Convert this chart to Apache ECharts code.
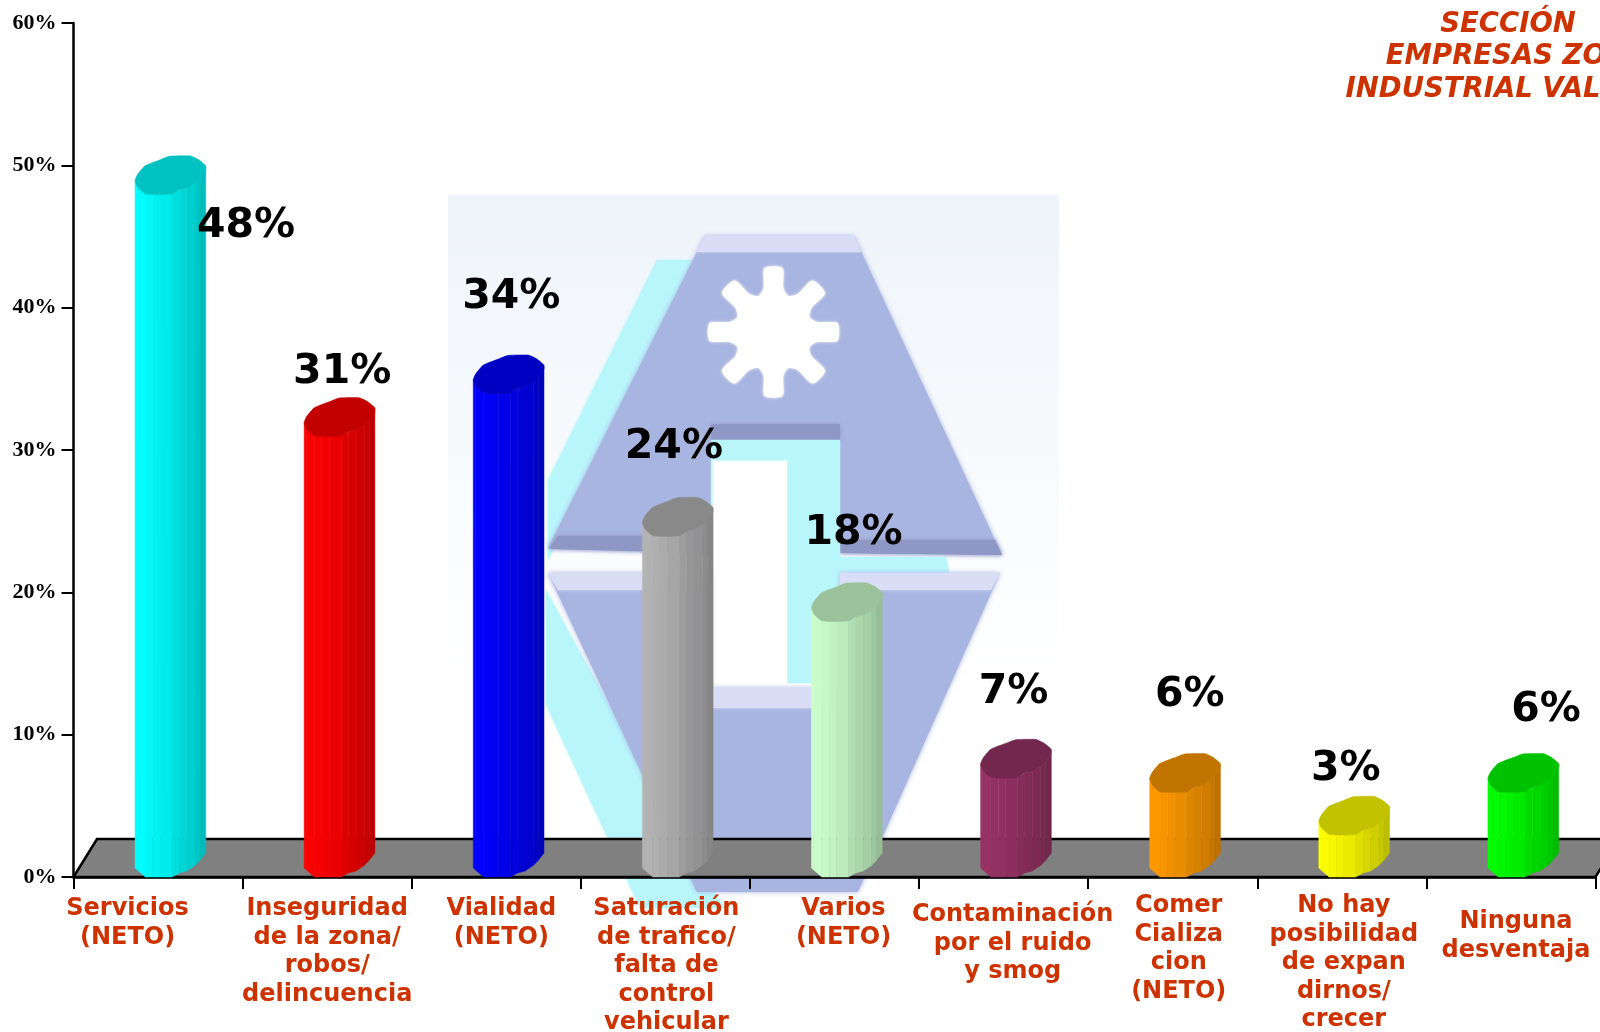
<!DOCTYPE html>
<html>
<head>
<meta charset="utf-8">
<style>html,body{margin:0;padding:0;background:#fff;overflow:hidden}#c{width:1600px;height:1032px}</style>
<script src="https://cdn.jsdelivr.net/npm/echarts@6/dist/echarts.min.js"></script>
</head>
<body>
<div id="c"></div>
<script>
const categories = [
  'Servicios\n(NETO)',
  'Inseguridad\nde la zona/\nrobos/\ndelincuencia',
  'Vialidad\n(NETO)',
  'Saturación\nde trafico/\nfalta de\ncontrol\nvehicular',
  'Varios\n(NETO)',
  'Contaminación\npor el ruido\ny smog',
  'Comer\nCializa\ncion\n(NETO)',
  'No hay\nposibilidad\nde expan\ndirnos/\ncrecer',
  'Ninguna\ndesventaja'
];
const values = [48, 31, 34, 24, 18, 7, 6, 3, 6];
const barColors = ['#00FFFF','#FF0000','#0000FF','#B4B4B4','#CCFFCC','#993366','#FF9900','#FFFF00','#00FF00'];
const yTicks = [0, 10, 20, 30, 40, 50, 60];
const titleLines = ['SECCIÓN', 'EMPRESAS ZONA', 'INDUSTRIAL VALLEJO'];

// layout only: nudges of labels relative to their category
const axisLabelNudge = [[-30.5,3],[0,3],[5,3],[1,3],[9,3],[9,9],[6,0],[2,0],[5,16]];
const valueLabelNudge = [[88,33],[15,-63.5],[15,-96],[8.5,-88.5],[19,-87.5],[10,-85],[17,-96.2],[4,-64.5],[35,-81.2]];
const titleCenters = [1508, 1518, 1508];
const titleTops = [11, 43, 76];

// shape of the faceted column, in px relative to its left edge and value height
const capOutline = [[0,-13.3],[2.3,-19],[10,-28],[25,-34],[35,-37.7],[55,-38],[63,-34.5],[70.7,-28],[70.7,-23],[61.7,-12.3],[51.7,-6],[44,-4],[37,0.3],[10.7,0.3],[2.3,-6.7]];
const frontTop = [[0,-13.3],[2.3,-6.7],[10.7,0.3],[37,0.3],[44,-4],[51.7,-6],[61.7,-12.3],[70.7,-23]];
const frontBase = [[0,-10],[10,-1],[37,-1],[44,-5],[52,-7],[62,-14],[70.7,-25]];
const slats = [0,2.3,10.3,17.7,25,37,44.3,51.7,60,65,70.7];
const slatShade = [1,0.99,0.97,0.95,0.92,0.87,0.84,0.81,0.78,0.74];
const capShade = 0.76;
const barShift = -23;
const floorDepth = [23.5, 38];

function shade(hex, f) {
  const n = parseInt(hex.slice(1), 16);
  return 'rgb(' + [(n>>16)&255,(n>>8)&255,n&255].map(c => Math.round(c*f)).join(',') + ')';
}
function curveAt(curve, x) {
  for (let i = 0; i < curve.length-1; i++) {
    const a = curve[i], b = curve[i+1];
    if (x <= b[0]) return a[1] + (b[1]-a[1])*(x-a[0])/(b[0]-a[0]);
  }
  return curve[curve.length-1][1];
}
function gear(cx, cy, rBody, rTip, halfW) {
  const p = [];
  for (let k = 0; k < 8; k++) {
    const t = k*Math.PI/4 - Math.PI/2, c = Math.cos(t), s = Math.sin(t);
    const pt = (r,w) => [cx + r*c - w*s, cy + r*s + w*c];
    p.push(pt(rBody,-halfW*1.1), pt(rTip,-halfW), pt(rTip,halfW), pt(rBody,halfW*1.1));
    const m = t + Math.PI/8;
    p.push([cx + (rBody-5)*Math.cos(m), cy + (rBody-5)*Math.sin(m)]);
  }
  return p;
}

function poly(points, fill, blur) {
  return {type:'polygon', silent:true, z:-10, shape:{points},
    style:{fill, shadowBlur: blur||0, shadowColor: fill}};
}
const PERI='#A9B5E1', LIGHT='#D9DDF5', DARK='#8F97C5', CYAN='#B9F6FB';
const backdrop = [
  {type:'rect', silent:true, z:-10, shape:{x:448,y:195,width:611,height:700},
   style:{fill:{type:'linear',x:0,y:0,x2:0,y2:1,colorStops:[{offset:0,color:'#EFF4FA'},{offset:0.35,color:'#F7FAFD'},{offset:0.7,color:'#FFFFFF'},{offset:1,color:'#FFFFFF'}]}}},
  poly([[657,260],[700,260],[548,560],[548,480]], CYAN, 3),
  poly([[546,590],[705,880],[725,908],[640,908],[546,705]], CYAN, 3),
  poly([[705,236],[854,236],[1002,555],[840,553],[840,429],[711,429],[711,553],[548,548]], PERI, 5),
  poly([[705,236],[854,236],[861,252],[697,252]], LIGHT, 3),
  poly([[558,536],[711,536],[711,553],[549,549]], DARK, 4),
  poly([[840,540],[995,540],[1002,555],[840,553]], DARK, 4),
  poly([[711,424],[840,424],[840,440],[711,440]], DARK, 4),
  poly([[711,440],[840,440],[840,557],[946,557],[950,575],[840,575],[840,683],[711,683]], CYAN, 2),
  poly([[713,461],[787,461],[787,688],[713,688]], '#FFFFFF', 2),
  poly([[548,573],[711,573],[711,688],[840,688],[840,573],[1000,573],[858,892],[697,892]], PERI, 5),
  poly([[548,573],[711,573],[711,590],[558,590]], LIGHT, 3),
  poly([[840,573],[1000,573],[991,590],[840,590]], LIGHT, 3),
  poly([[711,688],[840,688],[840,708],[711,708]], LIGHT, 3),
  {type:'polygon', silent:true, z:-10, shape:{points:gear(773.5,332,44,64,9), smooth:0.25},
   style:{fill:'#FFFFFF', shadowBlur:3, shadowColor:'#FFFFFF'}}
];

const chart = echarts.init(document.getElementById('c'), null, {renderer:'canvas', width:1600, height:1032});
chart.setOption({
  animation:false,
  backgroundColor:'#fff',
  title:titleLines.map((line,i) => ({
    text:line, left:titleCenters[i], top:titleTops[i], textAlign:'center', padding:0,
    textStyle:{fontFamily:'"DejaVu Sans"', fontWeight:'bold', fontStyle:'italic', fontSize:27.5, color:'#CC3300'}
  })),
  graphic:{elements:backdrop},
  grid:{left:73.5, right:4.5, top:23, bottom:155, containLabel:false, outerBoundsMode:'none'},
  xAxis:{
    type:'category',
    data:categories.map((name,i) => ({
      value:name,
      textStyle:{padding:[axisLabelNudge[i][1], axisLabelNudge[i][0]<0?-2*axisLabelNudge[i][0]:0, 0, axisLabelNudge[i][0]>0?2*axisLabelNudge[i][0]:0]}
    })),
    axisLine:{lineStyle:{color:'#000',width:2.5}},
    axisTick:{show:true,length:12,alignWithLabel:false,lineStyle:{color:'#000',width:2}},
    axisLabel:{interval:0,margin:14.5,hideOverlap:false,fontFamily:'"DejaVu Sans"',fontWeight:'bold',fontSize:24,lineHeight:28.6,color:'#CC3300',align:'center',verticalAlign:'top'}
  },
  yAxis:{
    type:'value', min:yTicks[0], max:yTicks[yTicks.length-1], interval:10,
    splitLine:{show:false},
    axisLine:{show:true,lineStyle:{color:'#000',width:2.5}},
    axisTick:{show:true,length:12,lineStyle:{color:'#000',width:2}},
    axisLabel:{margin:17,formatter:'{value}%',fontFamily:'"Liberation Serif"',fontWeight:'bold',fontSize:22,color:'#000'}
  },
  series:[
    {
      type:'custom', name:'floor', z:-1, silent:true, coordinateSystem:'cartesian2d',
      data:[[0,0]], clip:false,
      renderItem(params, api){
        const a = api.coord([0,0]), b = api.coord([categories.length-1,0]), w = api.size([1,0])[0];
        const x0 = a[0]-w/2, x1 = b[0]+w/2, y = a[1];
        return {type:'polygon', shape:{points:[[x0,y],[x0+floorDepth[0],y-floorDepth[1]],[x1+floorDepth[0],y-floorDepth[1]],[x1,y]]},
          style:{fill:'#808080',stroke:'#000',lineWidth:2.5}};
      }
    },
    {
      type:'custom', name:'Porcentaje', z:3, silent:true, coordinateSystem:'cartesian2d', clip:false,
      encode:{x:0,y:1},
      data:values.map((v,i)=>[i,v]),
      renderItem(params, api){
        const i = api.value(0), v = api.value(1);
        const top = api.coord([i,v]), base = api.coord([i,0]);
        const xl = top[0]+barShift, yv = top[1], y0 = base[1]+1, col = barColors[i];
        const kids = [];
        for (let s = 0; s < slats.length-1; s++) {
          const a = slats[s], b = slats[s+1];
          kids.push({type:'polygon', shape:{points:[
            [xl+a,yv+curveAt(frontTop,a)],[xl+b,yv+curveAt(frontTop,b)],
            [xl+b,y0+curveAt(frontBase,b)],[xl+a,y0+curveAt(frontBase,a)]]},
            style:{fill:shade(col,slatShade[s]),stroke:shade(col,slatShade[s]),lineWidth:0.5}});
        }
        kids.push({type:'polygon', shape:{points:capOutline.map(p=>[xl+p[0],yv+p[1]]), smooth:0.15},
          style:{fill:shade(col,capShade),stroke:shade(col,capShade),lineWidth:0.5}});
        kids.push({type:'text', style:{text:v+'%', x:top[0]+valueLabelNudge[i][0], y:yv+valueLabelNudge[i][1],
          align:'center', verticalAlign:'middle', font:'bold 41px "DejaVu Sans"', fill:'#000'}});
        return {type:'group', children:kids};
      }
    }
  ]
});
</script>
</body>
</html>
